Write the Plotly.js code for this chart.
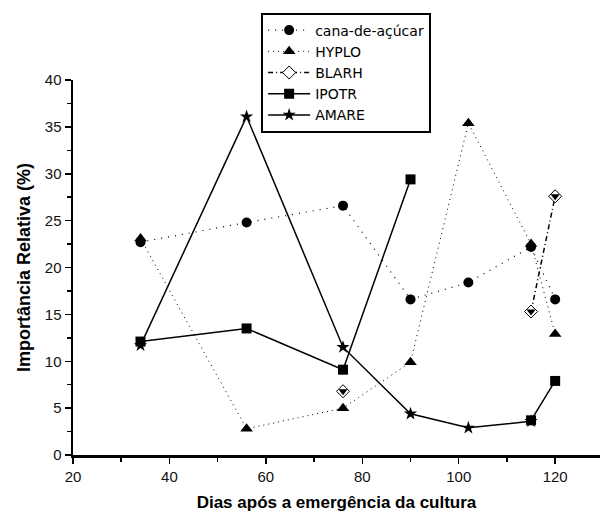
<!DOCTYPE html>
<html>
<head>
<meta charset="utf-8">
<script src="https://cdn.plot.ly/plotly-3.0.1.min.js"></script>
<style>html,body{margin:0;padding:0;background:#fff;}#chart{width:600px;height:513px;}</style>
</head>
<body>
<div id="chart"></div>
<script>
const days = [34, 56, 76, 90, 102, 115, 120];
const cana = [22.7, 24.8, 26.6, 16.6, 18.4, 22.2, 16.6];
const hyplo = [23.1, 2.8, 5.0, 9.9, 35.4, 22.5, 12.9];
const blarh = [null, null, 6.8, null, null, 15.3, 27.6];
const ipotr = [12.1, 13.5, 9.1, 29.4, null, 3.7, 7.9];
const amare = [11.7, 36.1, 11.5, 4.4, 2.9, 3.6, null];
const xTicks = [20, 40, 60, 80, 100, 120];
const yTicks = [0, 5, 10, 15, 20, 25, 30, 35, 40];

const traces = [
  {x: days, y: cana, name: 'cana-de-açúcar', mode: 'lines+markers',
   line: {color: '#000', width: 1.2, dash: '1px,6px'},
   marker: {symbol: 'circle', size: 10, color: '#000'}},
  {x: days, y: hyplo, name: 'HYPLO', mode: 'lines+markers',
   line: {color: '#000', width: 1, dash: '1px,4px'},
   marker: {symbol: 'triangle-up', size: 11, color: '#000'}},
  {x: days, y: blarh, name: 'BLARH', mode: 'lines+markers', legendgroup: 'b',
   line: {color: '#000', width: 1.5, dash: '5px,3px,1px,3px'},
   marker: {symbol: 'diamond', size: 10, color: '#fff', line: {color: '#000', width: 1}}},
  {x: days, y: blarh, name: 'BLARH', mode: 'markers', legendgroup: 'b', showlegend: false,
   marker: {symbol: 'triangle-down', size: 8, color: '#000'}, hoverinfo: 'skip'},
  {x: days, y: ipotr, name: 'IPOTR', mode: 'lines+markers',
   line: {color: '#000', width: 1.5},
   marker: {symbol: 'square', size: 10, color: '#000'}},
  {x: days, y: amare, name: 'AMARE', mode: 'lines+markers',
   line: {color: '#000', width: 1.5},
   marker: {symbol: 'star', size: 10, color: '#000'}}
];

const layout = {
  width: 600, height: 513,
  margin: {l: 73, r: 0, t: 80, b: 58},
  paper_bgcolor: '#fff', plot_bgcolor: '#fff',
  font: {family: 'Liberation Sans, Arial, sans-serif', color: '#000', size: 15},
  showlegend: true,
  legend: {x: 0.357, y: 1.18, xanchor: 'left', yanchor: 'top',
    bordercolor: '#000', borderwidth: 2, bgcolor: '#fff',
    font: {size: 14, family: 'DejaVu Sans, sans-serif', color: '#000'},
    tracegroupgap: 0, itemwidth: 42},
  xaxis: {range: [20, 129.3], tickvals: xTicks, ticktext: xTicks.map(String),
    showgrid: false, zeroline: false, showline: true, linecolor: '#000', linewidth: 2.5,
    ticks: 'outside', ticklen: 6, tickwidth: 1.5, tickcolor: '#000',
    minor: {dtick: 10, tick0: 0, ticks: 'outside', ticklen: 4, tickwidth: 1.5, tickcolor: '#000'},
    tickfont: {size: 15, color: '#111'},
    title: {text: 'Dias após a emergência da cultura', standoff: 13,
      font: {size: 17, family: 'Liberation Sans, Arial, sans-serif', weight: 'bold', color: '#000'}}},
  yaxis: {range: [0, 40], tickvals: yTicks, ticktext: yTicks.map(String),
    showgrid: false, zeroline: false, showline: true, linecolor: '#000', linewidth: 2.5,
    ticks: 'outside', ticklen: 6, tickwidth: 1.5, tickcolor: '#000',
    minor: {dtick: 2.5, tick0: 0, ticks: 'outside', ticklen: 4, tickwidth: 1.5, tickcolor: '#000'},
    tickfont: {size: 15, color: '#111'},
    title: {text: 'Importância Relativa (%)', standoff: 10,
      font: {size: 18, family: 'Liberation Sans, Arial, sans-serif', weight: 'bold', color: '#000'}}}
};

Plotly.newPlot('chart', traces, layout, {displayModeBar: false, staticPlot: true});
</script>
</body>
</html>
